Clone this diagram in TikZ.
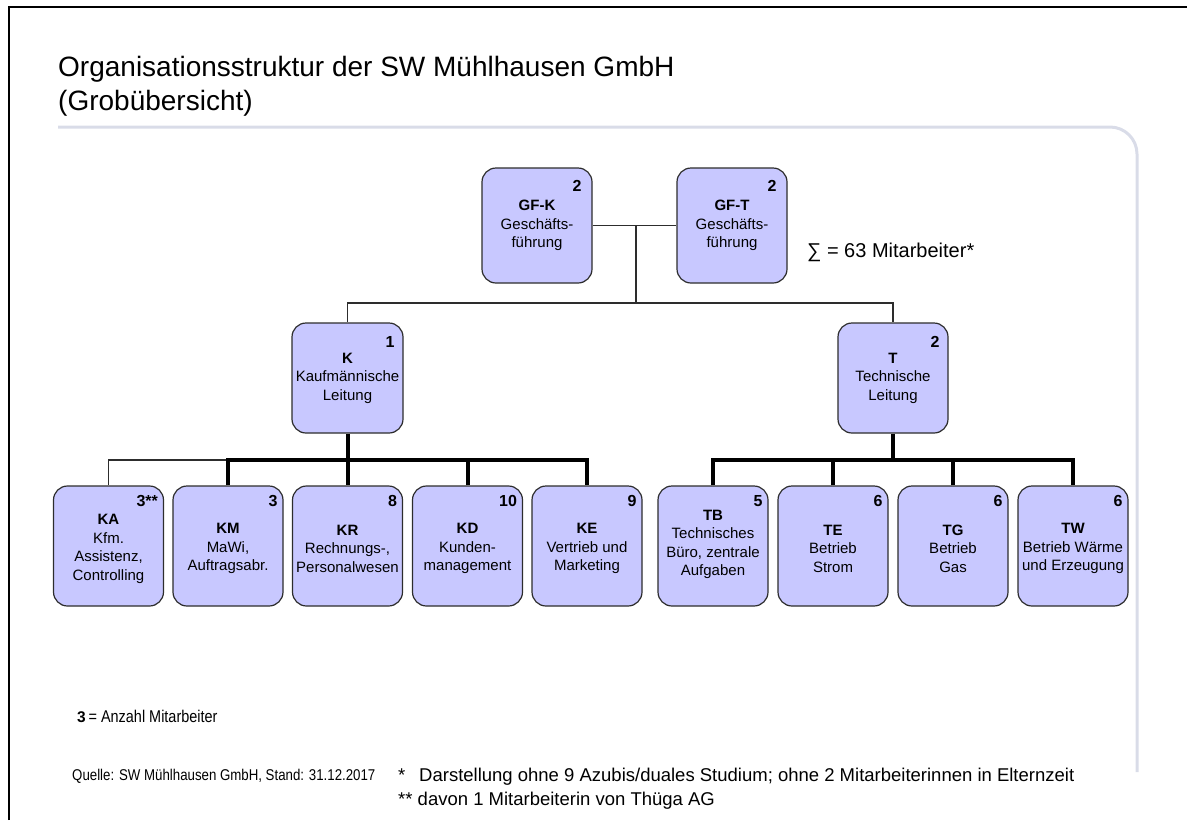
\documentclass[tikz,border=0pt]{standalone}
\usepackage{fontspec}
\setmainfont{Liberation Sans}
\newfontfamily\narrowfont[FakeStretch=0.85]{Liberation Sans}

\definecolor{boxfill}{RGB}{200,200,255}
\definecolor{rulegray}{RGB}{217,220,232}
\definecolor{edgegray}{RGB}{45,45,45}

\tikzset{
  orgbox/.style={draw=edgegray, line width=1.2pt, fill=boxfill,
    rounded corners=14pt, minimum width=110pt, inner sep=0pt,
    align=center, font=\fontsize{15}{18.5}\selectfont},
  headcount/.style={anchor=north east, inner sep=0pt,
    font=\fontsize{16}{18}\selectfont\bfseries},
  staffline/.style={edgegray, line width=1.3pt},
  barline/.style={black, line width=4pt},
  notetext/.style={anchor=base west, inner sep=0pt}
}

\begin{document}
\begin{tikzpicture}[x=1pt, y=-1pt]
  \useasboundingbox (0,0) rectangle (1187,820);
  %% frame and header rule
  \draw[line width=2.2pt] (9,820) -- (9,7) -- (1187,7);
  \draw[rulegray, line width=3pt, rounded corners=27pt]
     (58,127) -- (1137,127) -- (1137,772);

  %% title
  \node[notetext, font=\fontsize{28}{34}\selectfont] (title) at (58,76)
     {Organisationsstruktur der SW Mühlhausen GmbH};
  \node[notetext, font=\fontsize{28}{34}\selectfont] (subtitle) at (58,110)
     {(Grobübersicht)};

  %% management
  \node[orgbox, minimum height=115pt] (GFK) at (537,225.5)
     {\textbf{GF-K}\\Geschäfts-\\führung};
  \node[headcount, xshift=-11pt, yshift=-13pt] (GFK-n) at (GFK.north east) {2};
  \node[orgbox, minimum height=115pt] (GFT) at (732,225.5)
     {\textbf{GF-T}\\Geschäfts-\\führung};
  \node[headcount, xshift=-11pt, yshift=-13pt] (GFT-n) at (GFT.north east) {2};

  \node[notetext, font=\fontsize{20}{24}\selectfont] (total) at (807,257)
     {∑ = 63 Mitarbeiter*};

  %% heads of division
  \node[orgbox, minimum height=110pt, minimum width=111pt] (K) at (347.5,378)
     {\textbf{K}\\Kaufmännische\\Leitung};
  \node[headcount, xshift=-9pt, yshift=-14pt] (K-n) at (K.north east) {1};
  \node[orgbox, minimum height=110pt] (T) at (893,378)
     {\textbf{T}\\Technische\\Leitung};
  \node[headcount, xshift=-9pt, yshift=-14pt] (T-n) at (T.north east) {2};

  %% departments
  \foreach \nm/\x/\n/\txt in {
      KA/108.5/3**/{Kfm.\\Assistenz,\\Controlling},
      KM/228/3/{MaWi,\\Auftragsabr.},
      KR/347.5/8/{Rechnungs-,\\Personalwesen},
      KD/467.5/10/{Kunden-\\management},
      KE/587/9/{Vertrieb und\\Marketing},
      TB/713/5/{Technisches\\Büro, zentrale\\Aufgaben\rule[-12pt]{0pt}{12pt}},
      TE/833/6/{Betrieb\\Strom},
      TG/953/6/{Betrieb\\Gas},
      TW/1073/6/{Betrieb Wärme\\und Erzeugung}} {
    \node[orgbox, minimum height=120pt] (\nm) at (\x,546)
       {\rule{0pt}{16pt}\textbf{\nm}\\\txt};
    \node[headcount, xshift=-6pt, yshift=-10pt] (\nm-n) at (\nm.north east) {\n};
  }

  %% connectors
  \coordinate (gfjoin) at (636,225.5);
  \coordinate (topbar) at (636,303);
  \coordinate (kbar) at (347.5,460);
  \coordinate (tbar) at (893,460);

  \draw[staffline] (GFK) -- (GFT);
  \draw[staffline] (gfjoin) -- (topbar);
  \draw[staffline] (K.north) |- (topbar) -| (T.north);
  \draw[staffline] (KA.north) |- (kbar);

  \draw[barline] (K.south) -- (KR.north);
  \draw[barline] (KM.north) |- (kbar) -| (KE.north);
  \draw[barline] (KD.north) -- (KD.north |- kbar);
  \draw[barline] (T.south) -- (tbar);
  \draw[barline] (TB.north) |- (tbar) -| (TW.north);
  \foreach \b in {TE,TG}
    \draw[barline] (\b.north) -- (\b.north |- tbar);

  %% legend and notes
  \node[notetext] (legend) at (77,722)
     {{\fontsize{15.5}{17}\selectfont\bfseries 3}
      {\narrowfont\fontsize{17}{19}\selectfont = Anzahl Mitarbeiter}};
  \node[notetext, font=\narrowfont\fontsize{15.6}{18}\selectfont] (source) at (72,780)
     {Quelle: SW Mühlhausen GmbH, Stand: 31.12.2017};
  \node[notetext, font=\fontsize{18.5}{22}\selectfont] (star) at (398,781) {*};
  \node[notetext, font=\fontsize{18.5}{22}\selectfont] (note1) at (419,781)
     {Darstellung ohne 9 Azubis/duales Studium; ohne 2 Mitarbeiterinnen in Elternzeit};
  \node[notetext, font=\fontsize{18.5}{22}\selectfont] (note2) at (398,805)
     {** davon 1 Mitarbeiterin von Thüga AG};
\end{tikzpicture}
\end{document}
